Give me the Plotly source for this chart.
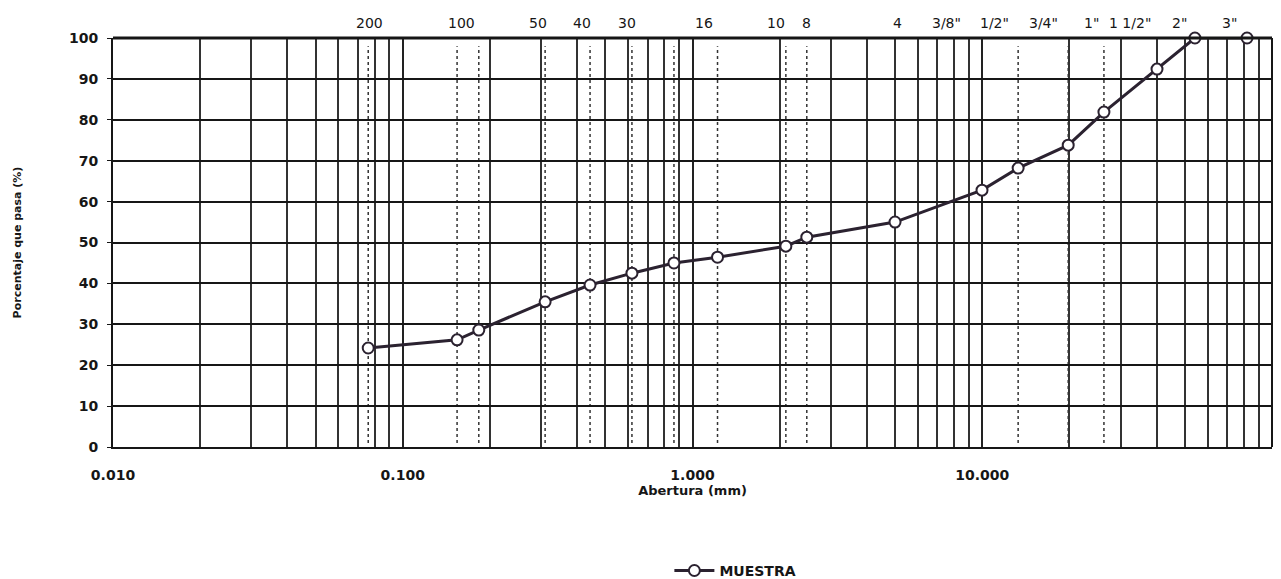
import math
import plotly.graph_objects as go

# Sample data: sieve opening (mm) vs percent passing
abertura_mm = [0.076, 0.154, 0.183, 0.31, 0.443, 0.618, 0.863, 1.22, 2.10, 2.48,
               5.0, 9.98, 13.3, 19.8, 26.3, 40.1, 54.2, 82.0]
pasa_pct = [24.2, 26.2, 28.6, 35.5, 39.6, 42.5, 45.0, 46.4, 49.1, 51.3,
            55.0, 62.8, 68.2, 73.8, 81.9, 92.4, 100.0, 100.0]

# Sieve labels shown along the top of the chart and where they sit (mm)
tamiz_labels = ["200", "100", "50", "40", "30", "16", "10", "8", "4",
                '3/8"', '1/2"', '3/4"', '1"', '1 1/2"', '2"', '3"']
tamiz_pos_mm = [0.0766, 0.159, 0.293, 0.416, 0.594, 1.10, 1.94, 2.47, 5.08,
                7.55, 11.06, 16.3, 23.9, 32.4, 48.1, 71.6]

x_tickvals = [0.01, 0.1, 1, 10]
x_ticktext = ["0.010", "0.100", "1.000", "10.000"]
y_tickvals = list(range(0, 101, 10))

FONT = "DejaVu Sans, Arial, sans-serif"
INK = "#161616"
LINE = "#2b2230"

fig = go.Figure()

fig.add_trace(go.Scatter(
    x=abertura_mm, y=pasa_pct, mode="lines+markers", name="MUESTRA",
    line=dict(color=LINE, width=3),
    marker=dict(symbol="circle", size=11, color="white",
                line=dict(color=LINE, width=2)),
    cliponaxis=False,
))

# dashed sieve lines
shapes = []
for v in abertura_mm[:-2]:
    shapes.append(dict(type="line", xref="x", yref="y", x0=v, x1=v, y0=1, y1=98,
                       line=dict(color="#333", width=1.5, dash="dot"), layer="below"))
# right and top border
shapes.append(dict(type="line", xref="paper", yref="paper", x0=1, x1=1, y0=0, y1=1,
                   line=dict(color=INK, width=2)))
shapes.append(dict(type="line", xref="paper", yref="paper", x0=0, x1=1, y0=1, y1=1,
                   line=dict(color=INK, width=3)))

annotations = []
for lab, pos in zip(tamiz_labels, tamiz_pos_mm):
    annotations.append(dict(x=math.log10(pos), y=1, xref="x", yref="paper",
                            text=lab, showarrow=False, yanchor="middle", yshift=15,
                            font=dict(family=FONT, size=14, color=INK)))

fig.update_layout(
    width=1273, height=571,
    margin=dict(l=105, r=9, t=30, b=132, autoexpand=False),
    paper_bgcolor="white", plot_bgcolor="white",
    font=dict(family=FONT, color=INK),
    shapes=shapes, annotations=annotations,
    showlegend=True,
    legend=dict(orientation="h", x=0.537, xanchor="center", y=-0.303, yanchor="middle",
                font=dict(family=FONT, size=14, color=INK, weight="bold"),
                itemwidth=40, bgcolor="rgba(0,0,0,0)"),
    xaxis=dict(
        type="log", range=[-2, 2], automargin=False,
        tickvals=x_tickvals, ticktext=x_ticktext,
        tickfont=dict(family=FONT, size=14, color=INK, weight="bold"),
        showgrid=True, gridcolor="#222", gridwidth=1.5,
        minor=dict(dtick="D1", showgrid=True, gridcolor="#333", gridwidth=1.5),
        showline=True, linecolor=INK, linewidth=2, mirror=False,
        ticks="", ticklabelstandoff=14,
        title=dict(text="<b>Abertura (mm)</b>", standoff=0,
                   font=dict(family=FONT, size=13, color=INK)),
        zeroline=False,
    ),
    yaxis=dict(
        range=[0, 100], tickvals=y_tickvals, automargin=False,
        tickfont=dict(family=FONT, size=14, color=INK, weight="bold"),
        showgrid=True, gridcolor=INK, gridwidth=2,
        showline=True, linecolor=INK, linewidth=2,
        ticks="outside", ticklen=4, tickcolor=INK, ticklabelstandoff=6,
        zeroline=True, zerolinecolor=INK, zerolinewidth=2,
        title=dict(text="<b>Porcentaje que pasa (%)</b>", standoff=45,
                   font=dict(family=FONT, size=11, color=INK)),
    ),
)

fig.write_html("out.html")
